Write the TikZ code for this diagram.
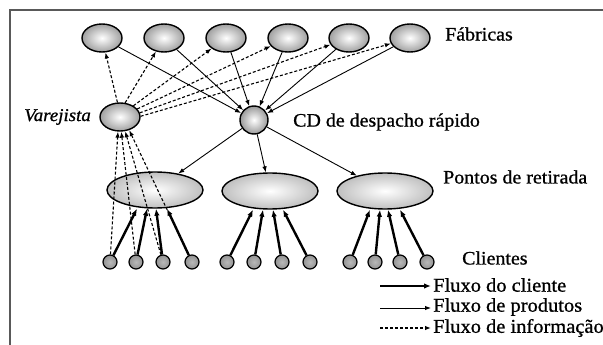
\documentclass[tikz,border=0pt]{standalone}
\usepackage{fontspec}
\setmainfont{Liberation Serif}[FakeStretch=1.05,FakeBold=0.9]
\usetikzlibrary{arrows.meta,shapes.geometric}
\begin{document}
\begin{tikzpicture}[x=1pt,y=-1pt,
  fab/.style={ellipse,draw=black,line width=1.4pt,inner color=white,outer color=gray!75,minimum width=40pt,minimum height=28pt,inner sep=0pt},
  cdnode/.style={circle,draw=black,line width=1.4pt,inner color=white,outer color=gray!80,minimum size=28pt,inner sep=0pt},
  ponto/.style={ellipse,draw=black,line width=1.4pt,inner color=white,outer color=gray!50,minimum width=96pt,minimum height=36pt,inner sep=0pt},
  cli/.style={circle,draw=black,line width=1.2pt,inner color=gray!55,outer color=gray!85,minimum size=14pt,inner sep=0pt},
  lbl/.style={inner sep=0pt,font=\fontsize{19}{21}\selectfont},
  leg/.style={inner sep=0pt,font=\fontsize{19.5}{21}\selectfont},
  pf/.style={line width=0.9pt,-{Latex[length=6pt,width=4.5pt]}},
  cf/.style={line width=2.4pt,-{Latex[length=7pt,width=5.5pt]}},
  inf/.style={line width=1.1pt,dash pattern=on 3pt off 2pt,-{Latex[length=6pt,width=4.5pt]}},
  frame/.style={draw=gray!70!black,line width=1.5pt}
]
\useasboundingbox (0,0) rectangle (603,345);
\fill[white] (0,0) rectangle (603,345);
% frame
\coordinate (fa) at (10,345);
\coordinate (fb) at (10,10);
\coordinate (fc) at (603,10);
\draw[frame] (fa) -- (fb) -- (fc);

% factories
\node[fab] (f1) at (102,38) {};
\node[fab] (f2) at (164,38) {};
\node[fab] (f3) at (226,38) {};
\node[fab] (f4) at (288,38) {};
\node[fab] (f5) at (349,38) {};
\node[fab] (f6) at (410,38) {};
\node[lbl,anchor=west] (tfab) at (445,34) {Fábricas};

% retailer and CD
\node[fab] (var) at (120,117) {};
\node[lbl,anchor=east,font=\fontsize{18}{20}\selectfont\itshape] (tvar) at (91,117) {Varejista};
\node[cdnode] (cd) at (254,120) {};
\node[lbl,anchor=west] (tcd) at (293,122) {CD de despacho rápido};

% pick-up points
\node[ponto] (p1) at (155,190) {};
\node[ponto] (p2) at (270,191) {};
\node[ponto] (p3) at (385,191) {};
\node[lbl,anchor=west] (tp) at (443,177) {Pontos de retirada};

% customers
\foreach \i/\x in {1/110,2/136,3/163,4/192}{\node[cli] (a\i) at (\x,262) {};}
\foreach \i/\x in {1/227,2/254,3/282,4/310}{\node[cli] (b\i) at (\x,262) {};}
\foreach \i/\x in {1/350,2/375,3/400,4/427}{\node[cli] (c\i) at (\x,262) {};}
\node[lbl,anchor=west] (tcl) at (462,258) {Clientes};

% product flow
\foreach \f in {f1,f2,f3,f4,f5,f6}{\draw[pf] (\f) -- (cd);}
\foreach \p in {p1,p2,p3}{\draw[pf] (cd) -- (\p);}

% information flow
\draw[inf] (var.100) -- (f1);
\draw[inf] (var.70) -- (f2);
\draw[inf] (var.40) -- (f3);
\draw[inf] (var.25) -- (f4);
\draw[inf] (var.12) -- (f5);
\draw[inf] (var.2) -- (f6);
\draw[inf] (a1) -- (var.262);
\draw[inf] (a2) -- (var.275);
\draw[inf] (a3) -- (var.290);
\draw[inf] (a4) -- (var.305);

% customer flow
\draw[cf] (a1) -- ([xshift=-18pt]p1.south);
\draw[cf] (a2) -- ([xshift=-8pt]p1.south);
\draw[cf] (a3) -- ([xshift=1pt]p1.south);
\draw[cf] (a4) -- ([xshift=12pt]p1.south);
\draw[cf] (b1) -- ([xshift=-17pt]p2.south);
\draw[cf] (b2) -- ([xshift=-7pt]p2.south);
\draw[cf] (b3) -- ([xshift=3pt]p2.south);
\draw[cf] (b4) -- ([xshift=13pt]p2.south);
\draw[cf] (c1) -- ([xshift=-15pt]p3.south);
\draw[cf] (c2) -- ([xshift=-5pt]p3.south);
\draw[cf] (c3) -- ([xshift=3pt]p3.south);
\draw[cf] (c4) -- ([xshift=15pt]p3.south);

% legend
\coordinate (l1a) at (380,286); \coordinate (l1b) at (431,286);
\coordinate (l2a) at (380,308); \coordinate (l2b) at (431,308);
\coordinate (l3a) at (380,328); \coordinate (l3b) at (431,328);
\draw[cf] (l1a) -- (l1b);
\draw[pf] (l2a) -- (l2b);
\draw[inf] (l3a) -- (l3b);
\node[leg,anchor=west] (t1) at (433,285) {Fluxo do cliente};
\node[leg,anchor=west] (t2) at (433,307) {Fluxo de produtos};
\node[leg,anchor=west] (t3) at (433,328) {Fluxo de informação};
\end{tikzpicture}
\end{document}
